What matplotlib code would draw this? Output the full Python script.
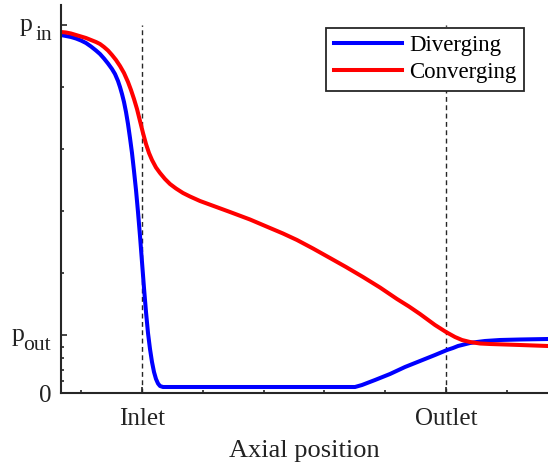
import matplotlib
matplotlib.use("Agg")
import matplotlib.pyplot as plt

plt.rcParams['font.family'] = ['Liberation Serif', 'DejaVu Serif']

# axial position (arbitrary units) and pressure (arbitrary units)
x_div = [0, 5, 10, 15, 20, 25, 30, 35, 39, 43, 47, 51, 54, 57, 59, 61, 63, 65, 67, 69,
         71, 73, 75, 77, 79, 81, 83, 85, 87, 89, 91, 93, 95, 97, 99, 102,
         294, 301, 314, 329, 344, 359, 374, 380, 386, 392, 397, 403, 409, 416, 424,
         439, 459, 487]
p_div = [358, 357, 356, 354.5, 352.5, 350, 346.5, 342.5, 339, 334.5, 329.5, 324, 319,
         312, 306, 299, 291, 281, 269, 255, 240, 222, 203, 181, 157, 131, 105, 81, 60,
         44, 31, 21, 14, 9.5, 7, 6,
         6, 8, 13, 19, 26, 32, 38, 40.5, 43, 45, 47, 48.5, 50, 51, 52,
         53, 53.5, 54]

x_conv = [0, 5, 10, 15, 20, 25, 30, 35, 39, 43, 47, 51, 55, 59, 63, 67, 70, 73, 76, 79,
          82, 85, 88, 91, 95, 99, 104, 109, 115, 122, 129, 139, 154, 169, 189, 209,
          222, 236, 252, 269, 285, 302, 319, 336, 348, 359, 374, 385, 394, 401, 409,
          419, 429, 459, 487]
p_conv = [361, 360.5, 359.5, 358, 356.5, 355, 353, 351, 349, 346, 342.5, 338, 333, 327,
          320, 311, 303, 294, 284, 272, 260, 249, 240, 233, 225.5, 220, 214, 209, 204.5,
          200, 196.5, 192, 186.5, 181, 173.5, 165, 159.5, 153, 144.5, 135, 126, 116,
          105.5, 94, 86.5, 79, 68, 61, 56, 53, 51, 49.5, 49, 48, 47]

x_inlet = 81
x_outlet = 385
p_in = 368
p_out = 58
x_max = 487
y_max = 388

axis_col = '#262626'
txt_col = '#222222'

fig = plt.figure(figsize=(5.48, 4.67), dpi=100)
ax = fig.add_axes([61 / 548, 74 / 467, 487 / 548, 388 / 467])

ax.vlines([x_inlet, x_outlet], 0, p_in, colors=axis_col, linestyles=(0, (3.5, 2.5)), lw=1.0)
ax.plot(x_div, p_div, color='#0000ff', lw=2.9, label='Diverging')
ax.plot(x_conv, p_conv, color='#ff0000', lw=2.9, label='Converging')

ax.set_xlim(0, x_max)
ax.set_ylim(0, y_max)

step_x = (x_outlet - x_inlet) / 5
ax.set_xticks([x_inlet, x_outlet])
ax.set_xticklabels(['Inlet', 'Outlet'])
ax.set_xticks([x_inlet + k * step_x for k in range(-1, 7) if k not in (0, 5)], minor=True)

ax.set_yticks([0, p_out, p_in])
ax.set_yticklabels(['0', '', ''])
minor_y = [p_out * k / 5 for k in range(1, 5)] + [p_out + (p_in - p_out) * k / 5 for k in range(1, 5)]
ax.set_yticks(minor_y, minor=True)

# p_in / p_out labels with large subscripts
for val, sub, p_off, s_off in [(p_in, 'in', -28, -9), (p_out, 'out', -36, -10)]:
    ax.annotate('p', xy=(0, val), xycoords=('axes fraction', 'data'),
                xytext=(p_off, -6), textcoords='offset pixels',
                ha='right', va='baseline', fontsize=18.5, color=txt_col)
    ax.annotate(sub, xy=(0, val), xycoords=('axes fraction', 'data'),
                xytext=(s_off, -15), textcoords='offset pixels',
                ha='right', va='baseline', fontsize=15.5, color=txt_col)

ax.tick_params(which='both', direction='in', colors=axis_col, labelcolor=txt_col, width=1.2)
ax.tick_params(which='major', length=4.5, labelsize=18)
ax.tick_params(which='minor', length=2.5)
ax.tick_params(axis='x', which='major', pad=11)
ax.tick_params(axis='y', which='major', pad=7)

for s in ['top', 'right']:
    ax.spines[s].set_visible(False)
for s in ['left', 'bottom']:
    ax.spines[s].set_color(axis_col)
    ax.spines[s].set_linewidth(1.5)

ax.set_xlabel('Axial position', fontsize=19, color=txt_col, labelpad=7)

leg = ax.legend(loc='upper right', bbox_to_anchor=(0.951, 0.941), borderaxespad=0,
                fontsize=16.5, fancybox=False, framealpha=1, edgecolor=axis_col,
                handlelength=3.0, handletextpad=0.3, borderpad=0.33, labelspacing=0.25)
leg.get_frame().set_linewidth(1.3)

fig.savefig('out.png', dpi=100)
